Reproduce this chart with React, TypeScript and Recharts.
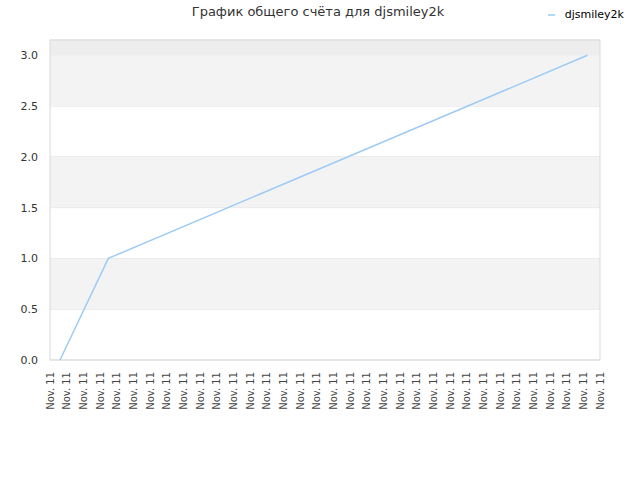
import React from 'react';
import { LineChart, Line, XAxis, YAxis, CartesianGrid, ReferenceArea, Legend } from 'recharts';

// positions on the time axis (in tick steps) and the score at each
const times = [0.6, 3.5, 32.25];
const scores = [0, 1, 3];
const seriesName = 'djsmiley2k';

const xTicks = [0, 1, 2, 3, 4, 5, 6, 7, 8, 9, 10, 11, 12, 13, 14, 15, 16, 17, 18, 19, 20, 21, 22, 23, 24, 25, 26, 27, 28, 29, 30, 31, 32, 33];
const xTickLabel = 'Nov. 11';
const yTicks = [0, 0.5, 1, 1.5, 2, 2.5, 3];
const yMax = 3.15;

// shaded bands [from, to]
const greyBands = [[0.5, 1], [1.5, 2], [2.5, 3]];
const topBand = [3, 3.15];

const title = 'График общего счёта для djsmiley2k';

const data = times.map((t, i) => ({ t, score: scores[i] }));

const FONT = '"DejaVu Sans", Verdana, sans-serif';
const LINE_COLOR = '#9ecbf5';

const XTick = ({ x, y }: any) => (
  <text
    x={x}
    y={y + 4}
    dy="0.35em"
    transform={`rotate(-90, ${x}, ${y + 4})`}
    textAnchor="end"
    fontSize={10}
    fontFamily={FONT}
    fill="#444"
  >
    {xTickLabel}
  </text>
);

const LegendContent = () => (
  <div style={{ display: 'flex', alignItems: 'center', fontFamily: FONT, fontSize: 11, color: '#000' }}>
    <svg width={16} height={10}>
      <line x1={2} y1={5} x2={9} y2={5} stroke={LINE_COLOR} strokeWidth={1.5} />
    </svg>
    <span style={{ marginLeft: 3 }}>{seriesName}</span>
  </div>
);

const App: React.FC = () => {
  return (
    <div style={{ position: 'absolute', left: 0, top: 0, width: 640, height: 480, background: '#fff' }}>
      <div
        style={{
          position: 'absolute',
          top: 4,
          left: 0,
          width: 636,
          textAlign: 'center',
          fontFamily: FONT,
          fontSize: 13,
          color: '#333',
        }}
      >
        {title}
      </div>
      <LineChart width={640} height={480} data={data} margin={{ top: 27, right: 40, bottom: 0, left: 0 }}>
        {greyBands.map(([a, b]) => (
          <ReferenceArea key={a} y1={a} y2={b} x1={0} x2={33} fill="#f3f3f3" fillOpacity={1} stroke="none" />
        ))}
        <ReferenceArea y1={topBand[0]} y2={topBand[1]} x1={0} x2={33} fill="#ededed" fillOpacity={1} stroke="none" />
        <CartesianGrid vertical={false} stroke="#e2e2e2" />
        <ReferenceArea y1={0} y2={yMax} x1={0} x2={33} fill="none" stroke="#d9d9d9" strokeOpacity={1} />
        <XAxis
          dataKey="t"
          type="number"
          domain={[0, 33]}
          ticks={xTicks}
          interval={0}
          axisLine={false}
          tickLine={false}
          tick={<XTick />}
          height={120}
        />
        <YAxis
          type="number"
          domain={[0, yMax]}
          ticks={yTicks}
          tickFormatter={(v: number) => v.toFixed(1)}
          axisLine={false}
          tickLine={false}
          tickSize={0}
          tickMargin={12}
          width={50}
          tick={{ fill: '#333', fontSize: 11, fontFamily: FONT }}
        />
        <Legend
          content={<LegendContent />}
          verticalAlign="top"
          align="right"
          wrapperStyle={{ position: 'absolute', top: 8, right: 16, left: 'auto', width: 'auto' }}
        />
        <Line
          type="linear"
          dataKey="score"
          name={seriesName}
          stroke={LINE_COLOR}
          strokeWidth={1.5}
          dot={false}
          isAnimationActive={false}
        />
      </LineChart>
    </div>
  );
};

export default App;
